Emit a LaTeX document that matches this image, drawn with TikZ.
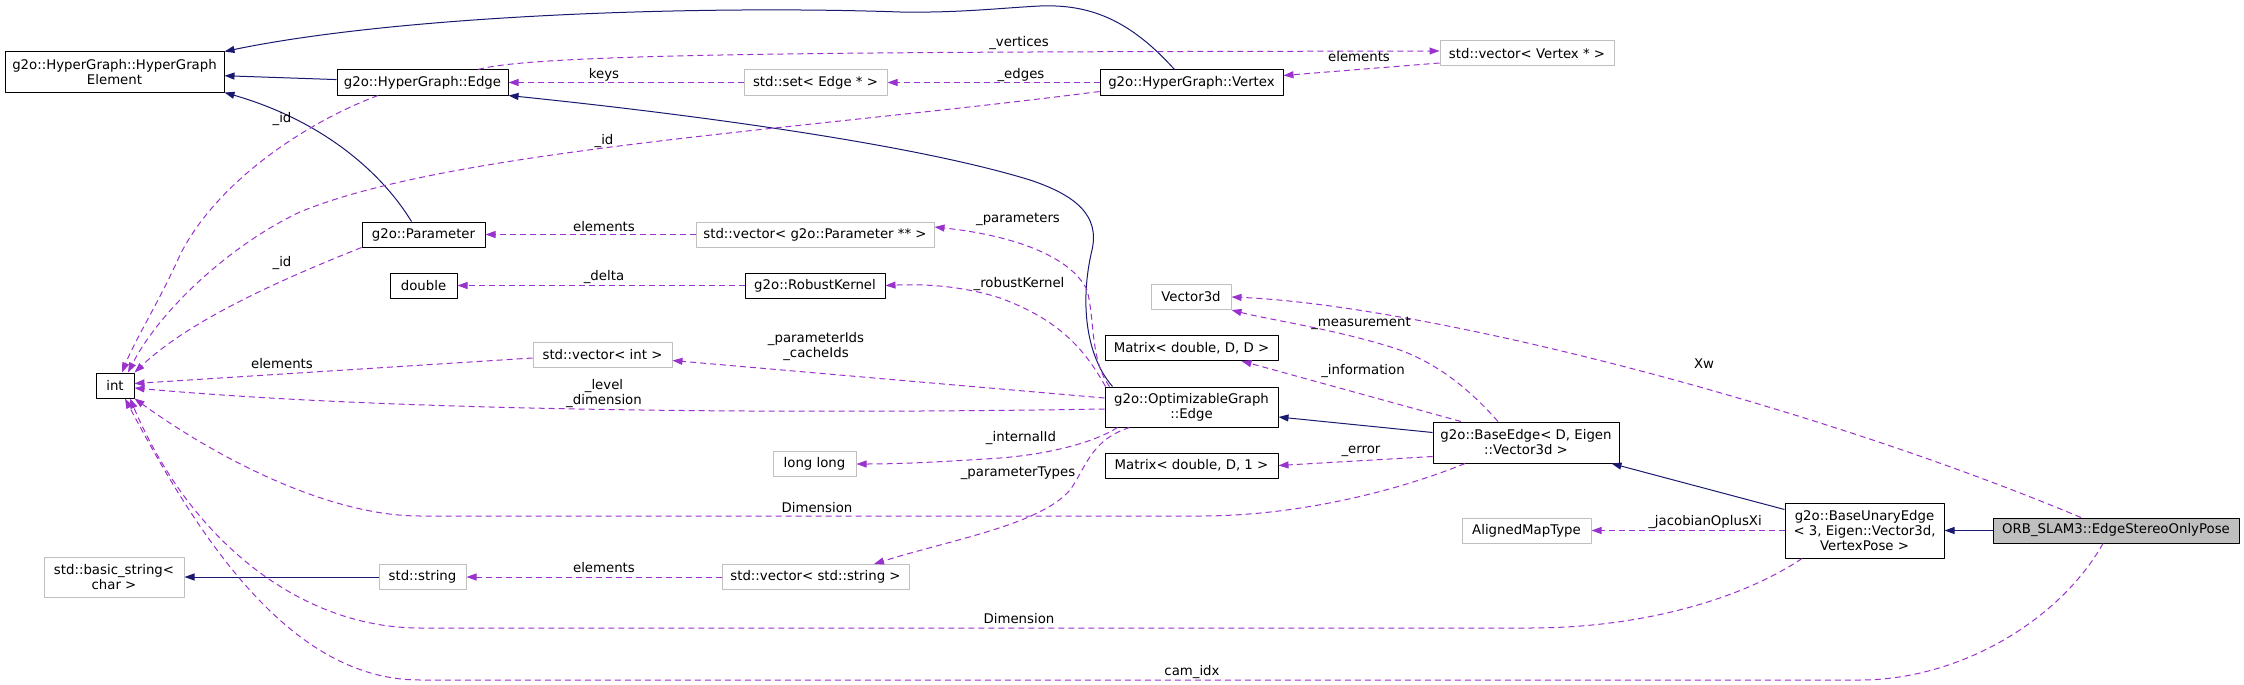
\documentclass[tikz,border=0pt]{standalone}
\usepackage{fontspec}
\setmainfont{DejaVu Sans}
\usetikzlibrary{arrows.meta}
\definecolor{navyline}{RGB}{25,25,112}
\definecolor{useline}{RGB}{154,50,205}
\definecolor{grey75}{RGB}{191,191,191}

\begin{document}
\begin{tikzpicture}[x=1pt,y=-1pt,line join=round,
  every node/.style={font=\fontsize{13.3}{15}\selectfont,align=center,inner sep=0pt},
  cls/.style={draw=black,line width=1pt,minimum height=25pt},
  ext/.style={draw=grey75,line width=1pt,minimum height=25pt},
  inh/.style={draw=navyline,line width=1pt,-{Triangle[length=10pt,width=7pt]}},
  use/.style={draw=useline,line width=1pt,dash pattern=on 6pt off 4pt,-{Triangle[length=10pt,width=7pt]}}]
  \useasboundingbox (0,0) rectangle (2244,685);

  % classes
  \node[cls,minimum width=219pt,minimum height=40pt] (elem) at (114.5,72) {g2o::HyperGraph::HyperGraph\\Element};
  \node[cls,minimum width=171pt] (hgedge) at (422.5,82.5) {g2o::HyperGraph::Edge};
  \node[ext,minimum width=143pt] (hgset) at (815.5,82.5) {std::set< Edge * >};
  \node[cls,minimum width=183pt] (hgvertex) at (1191.5,82.5) {g2o::HyperGraph::Vertex};
  \node[ext,minimum width=174pt] (vecvertex) at (1527,53.5) {std::vector< Vertex * >};
  \node[cls,minimum width=123pt] (param) at (423.5,234.5) {g2o::Parameter};
  \node[ext,minimum width=238pt] (vecparam) at (815,234.5) {std::vector< g2o::Parameter ** >};
  \node[cls,minimum width=67pt] (dbl) at (423.5,285.5) {double};
  \node[cls,minimum width=140pt] (kernel) at (815,285.5) {g2o::RobustKernel};
  \node[cls,minimum width=38pt] (intt) at (115,385.5) {int};
  \node[ext,minimum width=139pt] (vecint) at (602.5,354.5) {std::vector< int >};
  \node[ext,minimum width=80pt] (vec3d) at (1191,297) {Vector3d};
  \node[cls,minimum width=173pt] (matdd) at (1191.5,348) {Matrix< double, D, D >};
  \node[cls,minimum width=173pt,minimum height=40pt] (optedge) at (1191.5,407) {g2o::OptimizableGraph\\::Edge};
  \node[cls,minimum width=173pt] (matd1) at (1191.5,465.5) {Matrix< double, D, 1 >};
  \node[ext,minimum width=83pt] (longlong) at (814.5,464) {long long};
  \node[cls,minimum width=186pt,minimum height=41pt] (baseedge) at (1526,442.5) {g2o::BaseEdge< D, Eigen\\::Vector3d >};
  \node[ext,minimum width=129pt] (aligned) at (1526.5,530.5) {AlignedMapType};
  \node[cls,minimum width=159pt,minimum height=55pt] (unary) at (1864.5,530.5) {g2o::BaseUnaryEdge\\< 3, Eigen::Vector3d,\\VertexPose >};
  \node[cls,fill=grey75,minimum width=246pt] (stereo) at (2116,530.5) {ORB\_SLAM3::EdgeStereoOnlyPose};
  \node[ext,minimum width=140pt,minimum height=40pt] (basicstr) at (114,577) {std::basic\_string<\\char >};
  \node[ext,minimum width=87pt] (stdstr) at (422.5,577) {std::string};
  \node[ext,minimum width=187pt] (vecstring) at (815.5,577) {std::vector< std::string >};

  % inheritance
  \draw[inh] (hgedge) -- (elem);
  \draw[inh] ([xshift=-12pt]param.north) .. controls (380,170) and (320,120) .. (elem.south east);
  \draw[inh] ([xshift=-17pt]hgvertex.north) .. controls (1130,20) and (1090,4) .. (1040,6)
    .. controls (1000,8) and (960,13) .. (900,12) .. controls (700,5) and (400,15) .. (elem.north east);
  \draw[inh] ([xshift=8pt]optedge.north west) .. controls (1085,355) and (1080,300) .. (1092,250)
    .. controls (1100,215) and (1075,195) .. (1030,180) .. controls (900,140) and (650,110) .. (hgedge.south east);
  \draw[inh] ([yshift=10pt]baseedge.west) -- ([yshift=-10pt]optedge.east);
  \draw[inh] ([yshift=-7pt]unary.north west) -- ([xshift=-8pt]baseedge.south east);
  \draw[inh] (stereo) -- (unary);
  \draw[inh] (stdstr) -- (basicstr);

  % members
  \draw[use] ([xshift=55.5pt]hgedge.north) .. controls (540,52) and (900,52) .. ([yshift=2.5pt]vecvertex.west);
  \draw[use] ([yshift=-9.5pt]vecvertex.west) -- ([yshift=7pt]hgvertex.east);
  \draw[use] (hgset) -- (hgedge);
  \draw[use] (hgvertex) -- (hgset);
  \draw[use] ([xshift=-44.5pt]hgedge.south) .. controls (300,125) and (215,185) .. (180,255)
    .. controls (160,300) and (135,340) .. ([xshift=7pt]intt.north);
  \draw[use] ([yshift=-9pt]hgvertex.west) .. controls (800,130) and (450,150) .. (300,212)
    .. controls (230,245) and (160,310) .. ([xshift=13pt]intt.north);
  \draw[use] (param.south west) .. controls (280,280) and (190,320) .. (intt.north east);
  \draw[use] (vecparam) -- (param);
  \draw[use] ([xshift=5pt]optedge.north west) .. controls (1090,360) and (1095,320) .. (1087,290)
    .. controls (1070,255) and (1010,235) .. ([yshift=7.5pt]vecparam.east);
  \draw[use] (kernel) -- (dbl);
  \draw[use] ([xshift=1pt]optedge.north west) .. controls (1085,350) and (1060,320) .. (1000,298)
    .. controls (960,285) and (920,284) .. (kernel.east);
  \draw[use] ([yshift=-3.5pt]vecint.west) -- ([yshift=2pt]intt.east);
  \draw[use] ([yshift=9pt]optedge.west) -- ([yshift=-6pt]vecint.east);
  \draw[use] ([yshift=-2pt]optedge.west) .. controls (800,414) and (400,412) .. ([yshift=-2.5pt]intt.east);
  \draw[use] ([xshift=13pt]optedge.south west) .. controls (1090,445) and (1040,455) .. (1000,458)
    .. controls (940,462) and (900,464) .. (longlong.east);
  \draw[use] ([xshift=25pt]optedge.south west) .. controls (1090,440) and (1085,470) .. (1070,490)
    .. controls (1040,525) and (950,540) .. ([xshift=58.5pt]vecstring.north);
  \draw[use] ([xshift=-28pt]baseedge.north) .. controls (1470,390) and (1440,365) .. (1400,350)
    .. controls (1340,330) and (1270,320) .. (vec3d.south east);
  \draw[use] ([xshift=-65pt]baseedge.north) -- ([xshift=50pt]matdd.south);
  \draw[use] ([yshift=-14pt]baseedge.west) -- (matd1.east);
  \draw[use] ([xshift=-61pt]baseedge.south) .. controls (1400,490) and (1300,516) .. (1200,516)
    -- (420,516) .. controls (330,516) and (220,460) .. (intt.south east);
  \draw[use] (unary) -- (aligned);
  \draw[use] ([xshift=-62.5pt]unary.south) .. controls (1740,600) and (1640,628) .. (1530,628)
    -- (420,628) .. controls (300,628) and (190,540) .. ([xshift=15pt]intt.south);
  \draw[use] ([xshift=-13pt]stereo.south) .. controls (2060,620) and (1960,680) .. (1860,680)
    -- (420,680) .. controls (300,680) and (210,560) .. ([xshift=10pt]intt.south);
  \draw[use] ([xshift=-35pt]stereo.north) .. controls (1800,400) and (1420,305) .. (vec3d.east);
  \draw[use] (vecstring) -- (stdstr);

  % member names
  \foreach \n/\x/\y/\t in {vertices/1019/43/{\_vertices}, elemvv/1359/57/{elements},
      keys/604/75/{keys}, edges/1021/75/{\_edges}, idedge/282/119/{\_id},
      idvertex/604/141/{\_id}, idparam/282/263/{\_id}, elemvp/604/227/{elements},
      params/1018/219/{\_parameters}, delta/604/277/{\_delta}, robust/1019/284/{\_robustKernel},
      elemvi/282/364/{elements}, paramids/816/347/{\_parameterIds\\\_cacheIds},
      level/604/393.5/{\_level\\\_dimension}, measure/1361/323/{\_measurement},
      info/1363/371/{\_information}, internal/1021/438/{\_internalId}, error/1361/451/{\_error},
      ptypes/1018/473/{\_parameterTypes}, dimbase/817/508/{Dimension},
      jacobian/1705/522/{\_jacobianOplusXi}, elemvs/604/568/{elements},
      dimunary/1019/619/{Dimension}, camidx/1192/672/{cam\_idx}, xw/1704/364/{Xw}}
    \node (l-\n) at (\x,\y) {\t};
\end{tikzpicture}
\end{document}
